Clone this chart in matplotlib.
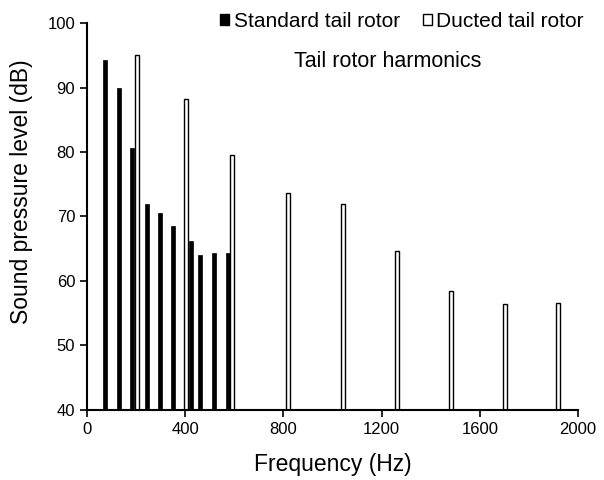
#tail rotor harmonics chart
import matplotlib
matplotlib.use("Agg")
import matplotlib.pyplot as plt
from matplotlib.patches import Patch

plt.rcParams['font.family'] = ['Liberation Sans', 'DejaVu Sans']

#data
std_freq = [73, 130, 185, 243, 297, 352, 422, 460, 517, 573]
std_level = [94.3, 89.9, 80.6, 71.9, 70.6, 68.6, 66.2, 64.0, 64.3, 64.3]
duct_freq = [202, 405, 589, 819, 1041, 1262, 1483, 1703, 1918]
duct_level = [95.0, 88.2, 79.5, 73.7, 72.0, 64.7, 58.5, 56.5, 56.6]
base = 40

fig = plt.figure(figsize=(6.04, 4.8), dpi=100)
ax = fig.add_axes([0.144, 0.146, 0.813, 0.806])

ax.bar(std_freq, [v - base for v in std_level], bottom=base, width=17,
       color='black', edgecolor='black', linewidth=0.5)
ax.bar(duct_freq, [v - base for v in duct_level], bottom=base, width=16,
       color='white', edgecolor='black', linewidth=1.0)

ax.set_xlim(0, 2000)
ax.set_ylim(40, 100)
ax.set_xticks(range(0, 2001, 400))
ax.set_yticks(range(40, 101, 10))
ax.spines['top'].set_visible(False)
ax.spines['right'].set_visible(False)
ax.spines['left'].set_linewidth(1.5)
ax.spines['bottom'].set_linewidth(1.5)
ax.tick_params(direction='out', length=5, width=1.2, labelsize=12)
ax.set_xlabel("Frequency (Hz)", fontsize=16.5, labelpad=12)
ax.set_ylabel("Sound pressure level (dB)", fontsize=16.5)
ax.yaxis.set_label_coords(-0.11, 0.565)

handles = [Patch(facecolor='black', edgecolor='black'),
           Patch(facecolor='white', edgecolor='black')]
fig.legend(handles, ["Standard tail rotor", "Ducted tail rotor"], ncol=2,
           frameon=False, fontsize=15, handlelength=0.45, handleheight=0.45,
           handletextpad=0.2, columnspacing=1.1, loc='center right',
           bbox_to_anchor=(0.98, 0.956), borderaxespad=0)
fig.text(0.642, 0.872, "Tail rotor harmonics", fontsize=15.5, ha='center', va='center')

fig.savefig("out.png", dpi=100)
